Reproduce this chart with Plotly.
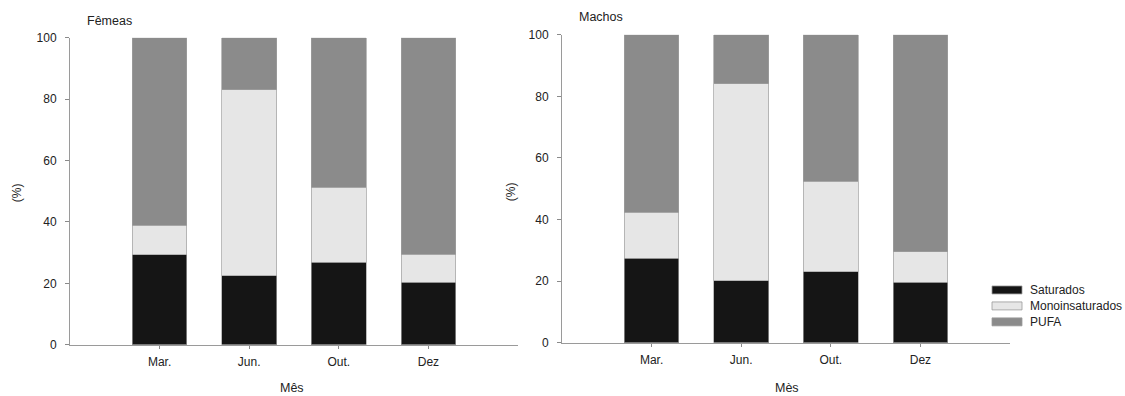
import plotly.graph_objects as go

W, H = 1125, 396

months = ["Mar.", "Jun.", "Out.", "Dez"]
series_names = ["Saturados", "Monoinsaturados", "PUFA"]
series_colors = ["#151515", "#e6e6e6", "#8b8b8b"]

femeas_saturados = [29.3, 22.5, 26.8, 20.3]
femeas_mono = [9.6, 60.5, 24.5, 9.2]
femeas_pufa = [61.1, 17.0, 48.7, 70.5]

machos_saturados = [27.4, 20.1, 23.1, 19.6]
machos_mono = [14.9, 64.0, 29.3, 10.0]
machos_pufa = [57.7, 15.9, 47.6, 70.4]

y_ticks = [0, 20, 40, 60, 80, 100]


def px(x):
    return x / W


def py(y):
    # small vertical correction for the rendering pipeline
    ys = (y - 6.2) / 0.9675
    return 1 - ys / H


FONT = "Liberation Sans, Arial, sans-serif"

fig = go.Figure()

panels = [
    ("x", "y", [femeas_saturados, femeas_mono, femeas_pufa]),
    ("x2", "y2", [machos_saturados, machos_mono, machos_pufa]),
]
for xa, ya, data in panels:
    for name, color, vals in zip(series_names, series_colors, data):
        fig.add_trace(go.Bar(
            x=months, y=vals, name=name, xaxis=xa, yaxis=ya,
            marker=dict(color=color, line=dict(color="#a0a0a0", width=0.7)),
            showlegend=False,
        ))

axis_common_x = dict(
    type="category", range=[-1.0, 4.0], showline=True, linecolor="#9a9a9a",
    linewidth=1, ticks="outside", ticklen=3, tickcolor="#8a8a8a",
    showgrid=False, zeroline=False, layer="below traces",
    tickfont=dict(family=FONT, size=12, color="#222"), ticklabelstandoff=3,
)
axis_common_y = dict(
    range=[0, 100], tickvals=y_ticks, showline=True, linecolor="#9a9a9a",
    linewidth=1, ticks="outside", ticklen=4, tickcolor="#8a8a8a",
    showgrid=False, zeroline=False, layer="below traces",
    tickfont=dict(family=FONT, size=12, color="#222"), ticklabelstandoff=6,
)

fig.update_layout(
    width=W, height=H, autosize=False,
    margin=dict(l=0, r=0, t=0, b=0),
    paper_bgcolor="white", plot_bgcolor="white",
    barmode="stack", bargap=0.39,
    showlegend=False,
    xaxis=dict(domain=[px(70), px(518)], anchor="y", **axis_common_x),
    yaxis=dict(domain=[py(345), py(37)], anchor="x", **axis_common_y),
    xaxis2=dict(domain=[px(562), px(1010)], anchor="y2", **axis_common_x),
    yaxis2=dict(domain=[py(343), py(34)], anchor="x2", **axis_common_y),
)

ann = []
ann.append(dict(text="Fêmeas", x=px(85), y=py(20), xanchor="left", yanchor="middle",
                font=dict(family=FONT, size=12.5, color="#222")))
ann.append(dict(text="Machos", x=px(577), y=py(16), xanchor="left", yanchor="middle",
                font=dict(family=FONT, size=12.5, color="#222")))
ann.append(dict(text="Mês", x=px(292), y=py(388), xanchor="center", yanchor="middle",
                font=dict(family=FONT, size=12.5, color="#222")))
ann.append(dict(text="Mès", x=px(787), y=py(388), xanchor="center", yanchor="middle",
                font=dict(family=FONT, size=12.5, color="#222")))
ann.append(dict(text="(%)", x=px(17), y=py(193), xanchor="center", yanchor="middle",
                textangle=-90, font=dict(family=FONT, size=12, color="#222")))
ann.append(dict(text="(%)", x=px(511), y=py(192), xanchor="center", yanchor="middle",
                textangle=-90, font=dict(family=FONT, size=12, color="#222")))

shapes = []
legend_rows = [290, 306, 322]
for name, color, ry in zip(series_names, series_colors, legend_rows):
    shapes.append(dict(type="rect", xref="paper", yref="paper",
                       x0=px(992), x1=px(1022), y0=py(ry + 4), y1=py(ry - 4),
                       fillcolor=color, line=dict(color="#999", width=0.8)))
    ann.append(dict(text=name, x=px(1028), y=py(ry), xanchor="left", yanchor="middle",
                    font=dict(family=FONT, size=12, color="#222")))

for a in ann:
    a.update(xref="paper", yref="paper", showarrow=False)
fig.update_layout(annotations=ann, shapes=shapes)

fig.write_html("out.html")
